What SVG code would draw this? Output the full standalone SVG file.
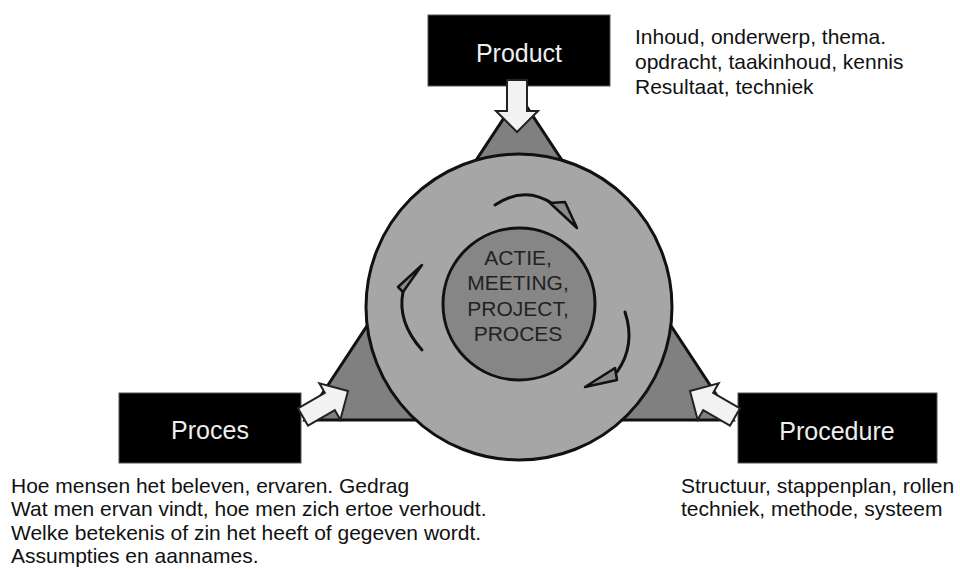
<svg xmlns="http://www.w3.org/2000/svg" width="960" height="569" viewBox="0 0 960 569">
<style>
.box{fill:#000;stroke:#555;stroke-width:1}
.btxt{font-family:"Liberation Sans",Arial,sans-serif;font-size:25px;fill:#eeeeee;text-anchor:middle}
.desc{font-family:"Liberation Sans",Arial,sans-serif;font-size:21px;fill:#111}
.ctxt{font-family:"Liberation Sans",Arial,sans-serif;font-size:21px;fill:#222;text-anchor:middle}
.barrow{fill:#f2f2f2;stroke:#222;stroke-width:2;stroke-linejoin:miter}
.arc{fill:none;stroke:#111;stroke-width:3;stroke-linecap:round}
.ahead{fill:#8a8a8a;stroke:#111;stroke-width:2.5;stroke-linejoin:round}
</style>
<defs>
<polygon id="blk" points="0,-10 31,-10 31,-21 52,0 31,21 31,10 0,10"/>
</defs>
<rect width="960" height="569" fill="#fff"/>
<g id="center">
<polygon points="519,95 305,420 733,420" fill="#808080" stroke="#111" stroke-width="3" stroke-linejoin="miter"/>
<circle cx="519" cy="307" r="153" fill="#a6a6a6" stroke="#111" stroke-width="3"/>
<circle cx="519" cy="304" r="76" fill="#868686" stroke="#111" stroke-width="3"/>
<text class="ctxt" x="518" y="265">ACTIE,</text>
<text class="ctxt" x="518" y="290">MEETING,</text>
<text class="ctxt" x="518" y="316">PROJECT,</text>
<text class="ctxt" x="518" y="341">PROCES</text>
</g>
<g id="cycle">
<path class="arc" d="M495,205 Q525,185 553,204"/>
<polygon class="ahead" points="550,203 565,202 577,228"/>
<path class="arc" d="M422,350 Q397,322 403,292"/>
<polygon class="ahead" points="422,265 398,287 403,292"/>
<path class="arc" d="M625,312 Q636,345 617,372"/>
<polygon class="ahead" points="585,387 615,368 617,380"/>
</g>
<g id="product">
<rect class="box" x="428" y="15" width="182" height="71"/>
<text class="btxt" x="519" y="62">Product</text>
</g>
<g id="proces">
<rect class="box" x="119" y="393" width="182" height="70"/>
<text class="btxt" x="210" y="439">Proces</text>
</g>
<g id="procedure">
<rect class="box" x="738" y="393" width="199" height="70"/>
<text class="btxt" x="837" y="440">Procedure</text>
</g>
<g id="connectors">
<use href="#blk" class="barrow" transform="translate(517,80) rotate(90)"/>
<use href="#blk" class="barrow" transform="translate(303,417) rotate(-30)"/>
<use href="#blk" class="barrow" transform="translate(735,417) rotate(-150)"/>
</g>
<g id="texts">
<text class="desc" x="635" y="44">Inhoud, onderwerp, thema.</text>
<text class="desc" x="635" y="69">opdracht, taakinhoud, kennis</text>
<text class="desc" x="635" y="94">Resultaat, techniek</text>
<text class="desc" x="11" y="493">Hoe mensen het beleven, ervaren. Gedrag</text>
<text class="desc" x="11" y="516">Wat men ervan vindt, hoe men zich ertoe verhoudt.</text>
<text class="desc" x="11" y="539.5">Welke betekenis of zin het heeft of gegeven wordt.</text>
<text class="desc" x="11" y="563">Assumpties en aannames.</text>
<text class="desc" x="681" y="493">Structuur, stappenplan, rollen</text>
<text class="desc" x="681" y="516">techniek, methode, systeem</text>
</g>
</svg>
